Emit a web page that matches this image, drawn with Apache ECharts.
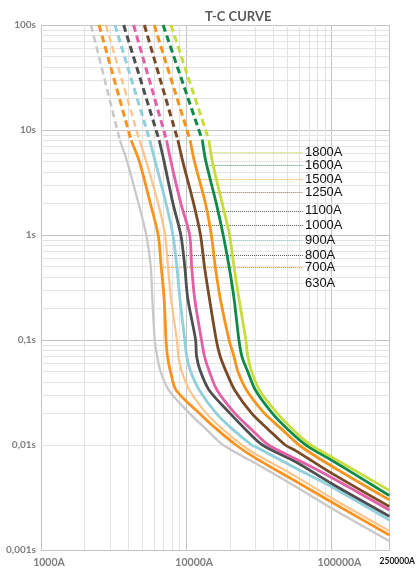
<!DOCTYPE html>
<html><head><meta charset="utf-8">
<script src="https://cdn.jsdelivr.net/npm/echarts@6/dist/echarts.min.js"></script>
<style>html,body{margin:0;padding:0;background:#fff}#c{width:418px;height:571px}</style>
</head><body><div id="c"></div>
<script>
// ---- data ----
const ratings = ['630A','700A','800A','900A','1000A','1100A','1250A','1500A','1600A','1800A'];
const colors  = ['#c9c9c9','#f7931e','#fdc48a','#8fd0dc','#4f4f52','#e25fa6','#7a4a27','#f7941d','#0e8a47','#c8dc3c'];
const leaderColors = ['#c9c9c9','#f7931e','#555555','#8fd0dc','#555555','#555555','#9a6a4a','#f7a040','#3f9a60','#c8dc3c'];

// dashed (pre-arcing) part: [current A, time s]
const dash630  = [[2210,100],[3490,8]];
const dash700  = [[2510,100],[4170,8]];
const dash800  = [[2800,100],[4760,8]];
const dash900  = [[3230,100],[5610,8]];
const dash1000 = [[3710,100],[6510,8]];
const dash1100 = [[4340,100],[7320,8]];
const dash1250 = [[5150,100],[8760,8]];
const dash1500 = [[6020,100],[10640,8]];
const dash1600 = [[6930,100],[12900,8]];
const dash1800 = [[7850,100],[14320,8]];

// solid part: [current A, time s]
const solid630  = [[3490,8],[3920,5],[4690,2],[5310,1],[5700,0.5],[5840,0.25],[6070,0.1],[6310,0.07],[6660,0.05],[7610,0.033],[10560,0.02],[13800,0.014],[17960,0.01],[30000,0.0067],[57000,0.004],[100000,0.0025],[250000,0.00122]];
const solid700  = [[4170,8],[4760,5],[5660,2],[6410,1],[6720,0.5],[7040,0.25],[7260,0.1],[7430,0.07],[7790,0.05],[8550,0.033],[12350,0.02],[16360,0.014],[22000,0.01],[30000,0.0075],[57000,0.0045],[100000,0.00286],[250000,0.00139]];
const solid800  = [[4760,8],[5310,5],[6410,2],[7150,1],[7490,0.5],[7850,0.25],[8620,0.1],[8830,0.07],[9320,0.05],[10560,0.033],[13770,0.02],[17960,0.014],[24160,0.01],[30000,0.0082],[57000,0.005],[100000,0.00313],[250000,0.00152]];
const solid900  = [[5610,8],[6120,5],[7260,2],[8100,1],[8620,0.5],[9040,0.25],[9770,0.1],[10080,0.07],[10730,0.05],[12350,0.033],[16100,0.02],[21000,0.014],[28230,0.01],[30000,0.0096],[57000,0.006],[100000,0.004],[250000,0.00193]];
const solid1000 = [[6510,8],[7040,5],[8100,2],[9180,1],[9770,0.5],[10240,0.25],[11600,0.1],[11780,0.07],[12540,0.05],[14430,0.033],[20030,0.02],[25720,0.014],[33530,0.01],[57000,0.0069],[100000,0.0043],[250000,0.0021]];
const solid1100 = [[7320,8],[7850,5],[9180,2],[10560,1],[10900,0.5],[11420,0.25],[12740,0.1],[13350,0.07],[14430,0.05],[16360,0.033],[21650,0.02],[28230,0.014],[36830,0.01],[57000,0.00736],[100000,0.0049],[250000,0.0024]];
const solid1250 = [[8760,8],[9470,5],[11240,2],[12540,1],[13350,0.5],[14430,0.25],[16100,0.1],[17130,0.07],[18820,0.05],[21650,0.033],[28230,0.02],[36830,0.014],[48030,0.01],[57000,0.0088],[100000,0.0054],[250000,0.0026]];
const solid1500 = [[10640,8],[11400,5],[13560,2],[14890,1],[15850,0.5],[17130,0.25],[19720,0.1],[21320,0.07],[22690,0.05],[26120,0.033],[34590,0.02],[45820,0.014],[59750,0.01],[100000,0.0063],[250000,0.003]];
const solid1600 = [[12900,8],[13660,5],[16100,2],[17960,1],[19720,0.5],[21320,0.25],[23050,0.1],[24160,0.07],[26530,0.05],[30060,0.033],[39200,0.02],[50300,0.014],[66600,0.01],[100000,0.0072],[250000,0.0033]];
const solid1800 = [[14320,8],[15130,5],[17680,2],[19880,1],[21320,0.5],[23050,0.25],[25720,0.1],[26530,0.07],[28230,0.05],[32000,0.033],[42380,0.02],[54390,0.014],[72050,0.01],[100000,0.0077],[250000,0.0037]];

// leader lines to labels: start current, time level
const leaderStart = [5840,6720,7260,8360,9040,9620,11070,12540,14430,15130];
const leaderT     = [0.347,0.493,0.645,0.896,1.23,1.70,2.53,3.39,4.64,6.13];
const leaderEnd   = 63600;

// tick labels
const yTickLabels = ['0,001s','0,01s','0,1s','1s','10s','100s'];
const xTickLabels = {1000:'1000A',10000:'10000A',100000:'100000A',250000:'250000A'};
const minorMult = [2,3,4,5,6,7,8,9];
const xDecades = [1000,10000,100000];
const yDecades = [0.001,0.01,0.1,1,10];

const dashes = [dash630,dash700,dash800,dash900,dash1000,dash1100,dash1250,dash1500,dash1600,dash1800];
const solids = [solid630,solid700,solid800,solid900,solid1000,solid1100,solid1250,solid1500,solid1600,solid1800];

// ---- chart ----
const xMinor = [], yMinor = [];
xDecades.forEach(d => minorMult.forEach(m => { if (d*m < 250000) xMinor.push({xAxis: d*m}); }));
yDecades.forEach(d => minorMult.forEach(m => yMinor.push({yAxis: +(d*m).toPrecision(3)})));

const widths = [2.3,2.8,2.2,2.8,2.8,2.8,2.8,2.8,2.8,2.8];
const series = [{
  type:'line', data:[], silent:true, z:1,
  markLine:{silent:true, animation:false, z:1, symbol:['none','none'], label:{show:false},
    lineStyle:{type:'solid', color:'#e3e3e3', width:1}, emphasis:{disabled:true},
    data: xMinor.concat(yMinor)}
}];
ratings.forEach((r,i) => {
  series.push({
    name:r+'d', type:'line', data:dashes[i], symbol:'none', z:10, silent:true,
    lineStyle:{color:colors[i], width:widths[i]+0.2, type:[7,4]}, emphasis:{disabled:true}
  });
  series.push({
    name:r, type:'line', data:solids[i], symbol:'none', smooth:0.3, z:10, silent:true,
    lineStyle:{color:colors[i], width:widths[i], type:'solid'}, emphasis:{disabled:true},
    markLine:{silent:true, animation:false, z:2, symbol:['none','none'],
      lineStyle:{type:'dotted', color:leaderColors[i], width:1},
      label:{show:true, position:'end', formatter:r, color:'#111', fontSize:13, fontFamily:'Liberation Sans', distance:2},
      emphasis:{disabled:true},
      data:[[{coord:[leaderStart[i], leaderT[i]]},{coord:[leaderEnd, leaderT[i]]}]]}
  });
});

const chart = echarts.init(document.getElementById('c'), null, {renderer:'canvas'});
chart.setOption({
  animation:false,
  backgroundColor:'#fff',
  title:{text:'T-C CURVE', left:200, top:5, textStyle:{fontSize:13, fontWeight:'bold', color:'#595959', fontFamily:'Lato'}},
  grid:{left:41, right:23, top:25, bottom:21, containLabel:false},
  xAxis:{type:'log', logBase:10, min:1000, max:250000,
    axisLine:{show:true, lineStyle:{color:'#c4c4c4'}}, axisTick:{show:false},
    splitLine:{show:true, lineStyle:{color:'#c4c4c4', width:1}},
    axisLabel:{showMinLabel:true, showMaxLabel:true, margin:7, color:'#7f7f7f', fontSize:10.5, fontWeight:'bold', fontFamily:'Lato',
      padding:[0,0,0,16],
      formatter: v => { const k = Math.round(v); if (k===250000) return '{e|'+xTickLabels[k]+'}'; return xTickLabels[k] || ''; },
      rich:{e:{color:'#111', fontSize:8.5, fontWeight:'bold', fontFamily:'Lato'}}}
  },
  yAxis:{type:'log', logBase:10, min:0.001, max:100,
    axisLine:{show:true, lineStyle:{color:'#c4c4c4'}}, axisTick:{show:false},
    splitLine:{show:true, lineStyle:{color:'#c4c4c4', width:1}},
    axisLabel:{margin:5, color:'#7f7f7f', fontSize:10, fontWeight:'bold', fontFamily:'Lato',
      formatter: v => yTickLabels[Math.round(Math.log10(v))+3] || ''}
  },
  series: series
});
</script>
</body></html>
